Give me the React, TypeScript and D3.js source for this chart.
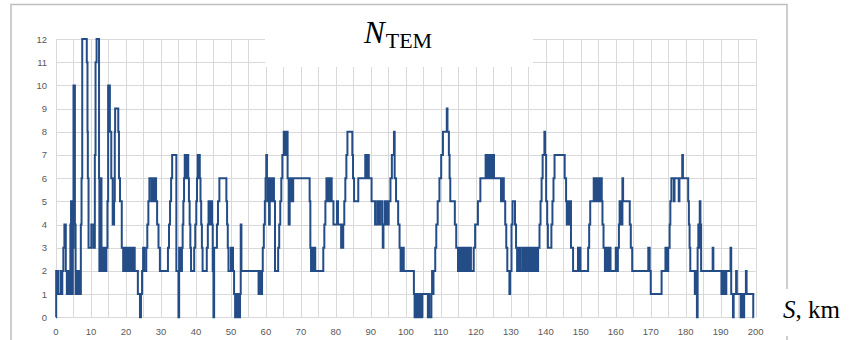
import React, { useRef, useEffect } from "react";
import * as d3 from "d3";

// x ticks (labels) and y ticks
const xLabels = [0, 10, 20, 30, 40, 50, 60, 70, 80, 90, 100, 110, 120, 130, 140, 150, 160, 170, 180, 190, 200];
const yLabels = [0, 1, 2, 3, 4, 5, 6, 7, 8, 9, 10, 11, 12];
const titleMain = "N";
const titleSub = "TEM";
const axisName = "S";
const axisUnit = ", km";

// [distance S in km, number of TEM] - step values
const temSteps: [number, number][] = [
  [0, 0], [0.05, 2], [0.6, 1], [1.3, 2], [1.5, 1], [1.8, 2], [2.1, 3], [2.4, 4], [2.8, 2], [3.1, 1],
  [3.6, 2], [3.8, 1], [4.1, 4], [4.3, 5], [4.6, 1], [4.8, 3], [5.0, 10], [5.4, 4], [5.6, 1], [5.8, 2],
  [6.0, 1], [6.2, 2], [6.4, 1], [6.6, 2], [6.8, 1], [7.1, 4], [7.3, 6], [7.5, 12], [8.8, 11], [9.0, 8],
  [9.1, 6], [9.3, 3], [10.1, 4], [10.7, 3], [11.1, 7], [11.3, 11], [11.6, 12], [12.3, 6], [12.4, 2], [12.6, 3],
  [12.8, 6], [13.0, 2], [13.2, 3], [13.4, 2], [13.6, 3], [13.8, 2], [14.0, 3], [14.2, 2], [14.4, 3], [14.7, 5],
  [14.9, 10], [15.4, 8], [15.8, 6], [16.2, 4], [16.6, 5], [16.8, 8], [16.9, 9], [17.8, 8], [18.0, 6], [18.3, 5],
  [18.8, 3], [19.2, 2], [19.4, 3], [19.6, 2], [19.8, 3], [20.0, 2], [20.2, 3], [20.4, 2], [20.6, 3], [20.8, 2],
  [21.0, 3], [21.2, 2], [21.6, 3], [21.8, 2], [22.2, 3], [22.5, 2], [23.4, 1], [24.0, 0], [24.3, 1], [24.6, 2],
  [24.9, 3], [25.2, 2], [25.8, 3], [26.1, 4], [26.4, 5], [26.7, 6], [27.3, 5], [27.5, 6], [27.7, 5], [27.9, 6],
  [28.1, 5], [28.3, 6], [28.6, 5], [28.9, 4], [29.3, 3], [29.7, 2], [32.0, 3], [32.3, 4], [32.6, 5], [32.9, 6],
  [33.2, 7], [34.4, 2], [35.0, 0], [35.2, 3], [35.4, 2], [35.6, 3], [35.8, 2], [36.0, 3], [36.2, 4], [36.4, 5],
  [36.6, 6], [36.8, 7], [37.0, 6], [37.2, 7], [37.4, 6], [37.6, 7], [37.8, 6], [38.0, 5], [38.2, 4], [38.4, 3],
  [38.6, 2], [39.5, 3], [39.8, 4], [40.1, 5], [40.3, 6], [40.5, 7], [40.7, 6], [40.9, 7], [41.1, 6], [41.3, 5],
  [41.5, 4], [41.7, 3], [41.9, 2], [43.1, 3], [43.4, 4], [43.6, 5], [43.8, 4], [44.0, 5], [44.2, 4], [44.4, 5],
  [44.6, 4], [44.8, 2], [45.0, 0], [45.2, 3], [46.0, 4], [46.3, 5], [46.7, 6], [48.7, 5], [48.9, 4], [49.1, 3],
  [49.3, 2], [50.0, 3], [50.2, 2], [50.4, 3], [50.6, 2], [50.9, 1], [51.2, 0], [51.4, 1], [51.7, 0], [52.0, 1],
  [52.3, 0], [52.6, 1], [52.8, 4], [53.0, 2], [57.9, 1], [58.1, 2], [58.3, 1], [58.5, 2], [58.7, 1], [58.9, 2],
  [59.1, 3], [59.4, 4], [59.7, 5], [59.9, 6], [60.1, 7], [60.3, 6], [60.5, 5], [60.7, 6], [60.9, 4], [61.1, 6],
  [61.3, 5], [61.5, 6], [61.8, 5], [62.1, 6], [62.3, 5], [62.6, 2], [63.5, 3], [63.8, 4], [64.1, 5], [64.4, 6],
  [64.7, 7], [65.1, 8], [65.3, 7], [65.5, 8], [65.7, 7], [65.9, 8], [66.2, 6], [66.5, 4], [66.8, 5], [67.0, 6],
  [67.2, 5], [67.4, 6], [67.6, 5], [67.8, 6], [72.5, 5], [72.7, 3], [72.9, 2], [73.1, 3], [73.3, 2], [73.5, 3],
  [73.7, 2], [73.9, 3], [74.1, 2], [76.4, 3], [76.7, 4], [77.0, 5], [77.3, 6], [77.5, 5], [77.7, 6], [77.9, 5],
  [78.1, 6], [78.3, 5], [78.5, 6], [78.8, 5], [79.3, 4], [80.3, 5], [80.6, 4], [81.5, 3], [81.7, 4], [81.9, 3],
  [82.1, 4], [82.4, 5], [82.7, 6], [83.0, 7], [83.3, 8], [84.7, 7], [84.9, 6], [85.2, 5], [86.4, 6], [88.4, 7],
  [88.6, 6], [88.8, 7], [89.0, 6], [89.2, 7], [89.4, 6], [90.2, 5], [91.2, 4], [91.8, 5], [92.2, 4], [92.6, 5],
  [93.2, 4], [93.4, 3], [93.6, 4], [93.9, 5], [94.4, 4], [94.6, 5], [94.9, 4], [95.1, 5], [95.6, 6], [96.0, 7],
  [96.6, 8], [96.8, 6], [97.2, 5], [97.8, 4], [98.2, 3], [98.5, 2], [98.7, 3], [98.9, 2], [99.1, 3], [99.4, 2],
  [102.3, 1], [102.5, 0], [102.7, 1], [102.9, 0], [103.1, 1], [103.3, 0], [103.5, 1], [103.7, 0], [103.9, 1], [104.1, 0],
  [104.3, 1], [104.5, 0], [104.7, 1], [106.3, 0], [106.5, 1], [106.7, 0], [107.3, 1], [107.5, 2], [107.7, 1], [107.9, 2],
  [108.4, 3], [108.7, 4], [109.1, 5], [109.6, 6], [110.1, 7], [110.6, 8], [111.7, 9], [111.9, 8], [112.3, 7], [112.5, 6],
  [112.7, 5], [114.0, 4], [114.4, 3], [114.9, 2], [115.1, 3], [115.3, 2], [115.5, 3], [115.7, 2], [115.9, 3], [116.1, 2],
  [116.3, 3], [116.5, 2], [116.7, 3], [116.9, 2], [117.1, 3], [117.3, 2], [117.5, 3], [117.7, 2], [117.9, 3], [118.1, 2],
  [118.3, 3], [118.6, 2], [119.4, 3], [119.8, 4], [120.6, 5], [121.3, 6], [122.8, 7], [123.0, 6], [123.2, 7], [123.4, 6],
  [123.6, 7], [123.8, 6], [124.0, 7], [124.2, 6], [124.4, 7], [124.6, 6], [124.8, 7], [125.2, 6], [127.2, 5], [127.4, 6],
  [127.6, 5], [127.8, 6], [128.0, 5], [128.4, 4], [128.7, 3], [129.0, 2], [129.6, 1], [129.8, 2], [130.2, 4], [130.5, 5],
  [131.2, 4], [131.5, 3], [131.8, 2], [132.0, 3], [132.2, 2], [132.6, 3], [132.8, 2], [133.4, 3], [133.6, 2], [133.8, 3],
  [134.0, 2], [134.2, 3], [134.4, 2], [134.6, 3], [134.8, 2], [135.0, 3], [135.2, 2], [135.5, 3], [135.7, 2], [135.9, 3],
  [136.1, 2], [136.4, 3], [136.6, 2], [136.8, 3], [137.0, 2], [137.2, 3], [137.4, 2], [137.8, 3], [138.2, 4], [138.5, 5],
  [138.8, 6], [139.1, 7], [139.6, 8], [139.8, 7], [140.1, 5], [140.4, 4], [140.6, 3], [141.6, 4], [141.9, 5], [142.2, 6],
  [142.5, 7], [145.4, 6], [145.8, 5], [146.0, 4], [146.2, 5], [146.4, 4], [146.6, 5], [146.8, 4], [147.0, 5], [147.2, 3],
  [147.8, 2], [149.2, 3], [149.5, 2], [149.7, 3], [149.9, 2], [152.1, 3], [152.4, 4], [152.7, 5], [153.7, 6], [153.9, 5],
  [154.1, 6], [154.3, 5], [154.5, 6], [154.7, 5], [154.9, 6], [155.1, 5], [155.3, 6], [155.5, 5], [155.7, 6], [156.0, 5],
  [156.2, 4], [156.5, 3], [156.9, 2], [157.1, 3], [157.3, 2], [157.5, 3], [157.7, 2], [157.9, 3], [158.1, 2], [158.3, 3],
  [158.5, 2], [160.0, 3], [160.2, 2], [160.6, 3], [160.9, 4], [161.1, 5], [161.3, 4], [161.5, 5], [161.7, 4], [161.9, 6],
  [162.1, 5], [164.0, 4], [164.3, 3], [164.7, 2], [169.3, 3], [169.7, 2], [170.0, 1], [173.1, 2], [174.2, 3], [174.4, 2],
  [174.6, 3], [174.8, 2], [175.0, 3], [175.4, 4], [175.6, 5], [175.9, 6], [176.6, 5], [176.8, 6], [178.0, 5], [178.2, 6],
  [179.0, 7], [179.2, 6], [180.7, 5], [180.9, 4], [181.1, 3], [181.3, 2], [182.6, 1], [182.8, 2], [183.0, 1], [183.2, 0],
  [183.4, 3], [183.6, 4], [183.8, 3], [184.0, 5], [184.2, 4], [184.4, 2], [187.7, 3], [187.9, 2], [190.2, 1], [190.4, 2],
  [190.6, 1], [190.8, 2], [191.0, 1], [191.2, 2], [191.4, 1], [191.6, 2], [192.8, 3], [193.0, 1], [193.5, 0], [193.7, 1],
  [194.4, 2], [194.6, 1], [195.7, 0], [195.9, 1], [196.1, 0], [196.3, 1], [196.5, 0], [196.7, 1], [197.2, 2], [197.4, 1],
  [199.3, 0], [199.4, 0],
];

const WIDTH = 849;
const HEIGHT = 340;

function App() {
  const svgRef = useRef<SVGSVGElement>(null);

  useEffect(() => {
    const svg = d3.select(svgRef.current);
    svg.selectAll("*").remove();

    const x = d3.scaleLinear().domain([0, 200]).range([56, 755.7]);
    const y = d3.scaleLinear().domain([0, 12]).range([317.3, 39]);

    // grid
    const grid = svg.append("g").attr("stroke", "#d9d9d9").attr("stroke-width", 1);
    grid
      .selectAll(".vgrid")
      .data(x.ticks(40))
      .join("line")
      .attr("x1", d => Math.round(x(d)) + 0.5)
      .attr("x2", d => Math.round(x(d)) + 0.5)
      .attr("y1", y(12))
      .attr("y2", y(0));
    grid
      .selectAll(".hgrid")
      .data(yLabels)
      .join("line")
      .attr("x1", x(0))
      .attr("x2", x(200))
      .attr("y1", d => Math.round(y(d)) + 0.5)
      .attr("y2", d => Math.round(y(d)) + 0.5);

    // tick labels
    const labelFont = "'Liberation Sans', Arial, sans-serif";
    svg
      .append("g")
      .selectAll("text")
      .data(yLabels)
      .join("text")
      .attr("x", 47)
      .attr("y", d => y(d) + 3.5)
      .attr("text-anchor", "end")
      .attr("font-family", labelFont)
      .attr("font-size", 9.5)
      .attr("fill", "#595959")
      .text(d => d);
    svg
      .append("g")
      .selectAll("text")
      .data(xLabels)
      .join("text")
      .attr("x", d => x(d))
      .attr("y", 334.5)
      .attr("text-anchor", "middle")
      .attr("font-family", labelFont)
      .attr("font-size", 9.5)
      .attr("fill", "#595959")
      .text(d => d);

    // step line
    const line = d3
      .line<[number, number]>()
      .x(d => x(d[0]))
      .y(d => y(d[1]))
      .curve(d3.curveStepAfter);
    svg
      .append("path")
      .datum(temSteps)
      .attr("d", line)
      .attr("fill", "none")
      .attr("stroke", "#244d87")
      .attr("stroke-width", 2)
      .attr("stroke-linejoin", "miter");

    // title box covering the grid
    svg.append("rect").attr("x", 265).attr("y", 6).attr("width", 268).attr("height", 61).attr("fill", "#fff");

    // outer frame
    svg
      .append("rect")
      .attr("x", 11)
      .attr("y", 4.5)
      .attr("width", 776)
      .attr("height", 360)
      .attr("fill", "none")
      .attr("stroke", "#bfbfbf")
      .attr("stroke-width", 1.5);

    // axis name box covering the frame
    svg.append("rect").attr("x", 772).attr("y", 289).attr("width", 77).attr("height", 47).attr("fill", "#fff");

    const serif = "'Liberation Serif', 'Times New Roman', serif";
    const title = svg
      .append("text")
      .attr("x", 364)
      .attr("y", 43)
      .attr("font-family", serif)
      .attr("fill", "#000");
    title.append("tspan").attr("font-style", "italic").attr("font-size", 31).text(titleMain);
    title.append("tspan").attr("font-size", 22).attr("dy", 5).attr("dx", 1).text(titleSub);

    const sLabel = svg
      .append("text")
      .attr("x", 783)
      .attr("y", 318)
      .attr("font-family", serif)
      .attr("font-size", 25)
      .attr("fill", "#000");
    sLabel.append("tspan").attr("font-style", "italic").text(axisName);
    sLabel.append("tspan").text(axisUnit);
  }, []);

  return (
    <svg
      ref={svgRef}
      width={WIDTH}
      height={HEIGHT}
      style={{ position: "absolute", left: 0, top: 0, background: "#fff" }}
    />
  );
}

export default App;
